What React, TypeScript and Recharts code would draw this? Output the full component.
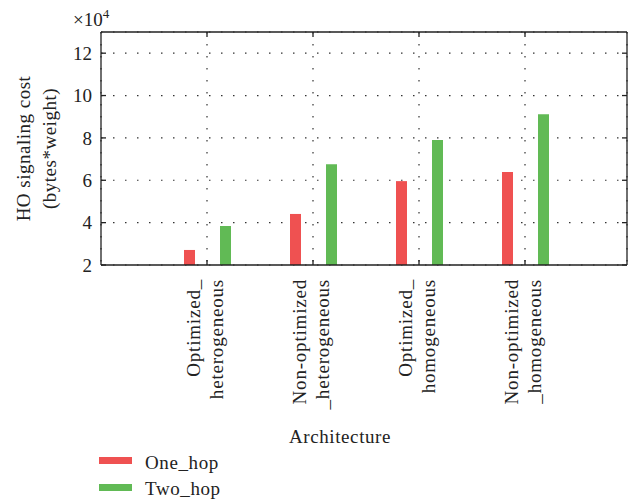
import React from 'react';
import {
  BarChart, Bar, XAxis, YAxis, CartesianGrid, Legend
} from 'recharts';

const categories = [
  ['Optimized_', 'heterogeneous'],
  ['Non-optimized', '_heterogeneous'],
  ['Optimized_', 'homogeneous'],
  ['Non-optimized', '_homogeneous'],
];
const oneHop = [2.71, 4.41, 5.96, 6.39];
const twoHop = [3.84, 6.76, 7.9, 9.12];
const yTicks = [2, 4, 6, 8, 10, 12];
const series = [
  { key: 'oneHop', name: 'One_hop', color: '#ef5151' },
  { key: 'twoHop', name: 'Two_hop', color: '#61ba55' },
];

const data = categories.map((lines, i) => ({
  name: lines.join(' '),
  oneHop: oneHop[i],
  twoHop: twoHop[i],
}));

const FONT = '"Liberation Serif", "Times New Roman", serif';
const INK = '#222';

const ArchTick = (props: any) => {
  const { x, y, payload, index } = props;
  const lines = categories[index] || [payload.value, ''];
  return (
    <text
      x={x}
      y={y}
      transform={`rotate(-90, ${x}, ${y})`}
      textAnchor="end"
      fontFamily={FONT}
      fontSize={19}
      letterSpacing={0.8}
      fill={INK}
    >
      <tspan x={x} dy={-7}>{lines[0]}</tspan>
      <tspan x={x} dy={23}>{lines[1]}</tspan>
    </text>
  );
};

const YLabel = (props: any) => {
  const { viewBox } = props;
  const cx = viewBox.x + 24;
  const cy = viewBox.y + viewBox.height / 2;
  return (
    <g fontFamily={FONT} fill={INK}>
      <text
        x={cx}
        y={cy}
        transform={`rotate(-90, ${cx}, ${cy})`}
        textAnchor="middle"
        fontSize={19}
        letterSpacing={0.5}
      >
        <tspan x={cx} dy={6}>HO signaling cost</tspan>
        <tspan x={cx} dy={26}>(bytes*weight)</tspan>
      </text>
      <text x={viewBox.x + 73} y={viewBox.y - 6} fontSize={19}>
        ×10<tspan dy={-8} fontSize={13}>4</tspan>
      </text>
    </g>
  );
};

const XLabel = (props: any) => {
  const { viewBox } = props;
  return (
    <text
      x={viewBox.x + viewBox.width / 2 - 24}
      y={443}
      textAnchor="middle"
      fontFamily={FONT}
      fontSize={19}
      letterSpacing={0.6}
      fill={INK}
    >
      Architecture
    </text>
  );
};

const LegendBox = () => (
  <svg width={200} height={48} style={{ display: 'block' }}>
    {series.map((s, i) => (
      <g key={s.key}>
        <rect x={0} y={5 + i * 27} width={33} height={7} fill={s.color} />
        <text x={46} y={17 + i * 26} fontFamily={FONT} fontSize={19} letterSpacing={0.6} fill={INK}>
          {s.name}
        </text>
      </g>
    ))}
  </svg>
);

const App: React.FC = () => {
  return (
    <div style={{ position: 'absolute', left: 0, top: 0, width: 628, height: 500, background: '#fff' }}>
      <BarChart
        width={628}
        height={500}
        data={data}
        margin={{ top: 31, right: 0, bottom: 0, left: 0 }}
        barSize={11}
        barGap={25}
      >
        <CartesianGrid stroke="#333" strokeDasharray="1.5 10.5" strokeWidth={1.2} />
        <XAxis
          dataKey="name"
          height={235}
          padding={{ left: 53, right: 49 }}
          tickSize={-5}
          tickMargin={19}
          tick={<ArchTick />}
          interval={0}
          stroke={INK}
          strokeWidth={1.3}
          label={XLabel}
        />
        <XAxis
          xAxisId="top"
          orientation="top"
          dataKey="name"
          height={1}
          padding={{ left: 53, right: 49 }}
          tickSize={-5}
          tick={() => <g />}
          interval={0}
          stroke={INK}
          strokeWidth={1.3}
        />
        <YAxis
          type="number"
          domain={[2, 13]}
          ticks={yTicks}
          allowDataOverflow
          width={101}
          tickSize={-5}
          tickMargin={14}
          stroke={INK}
          strokeWidth={1.3}
          tick={{ fontFamily: FONT, fontSize: 19, fill: INK }}
          label={YLabel}
        />
        <YAxis
          yAxisId="right"
          orientation="right"
          type="number"
          domain={[2, 13]}
          ticks={yTicks}
          allowDataOverflow
          width={1}
          tickSize={-5}
          tick={() => <g />}
          stroke={INK}
          strokeWidth={1.3}
        />
        <Legend
          layout="horizontal"
          verticalAlign="middle"
          align="center"
          wrapperStyle={{ left: 99, top: 452, width: 200, height: 48 }}
          content={() => <LegendBox />}
        />
        {series.map((s) => (
          <Bar key={s.key} dataKey={s.key} name={s.name} fill={s.color} isAnimationActive={false} />
        ))}
      </BarChart>
    </div>
  );
};

export default App;
